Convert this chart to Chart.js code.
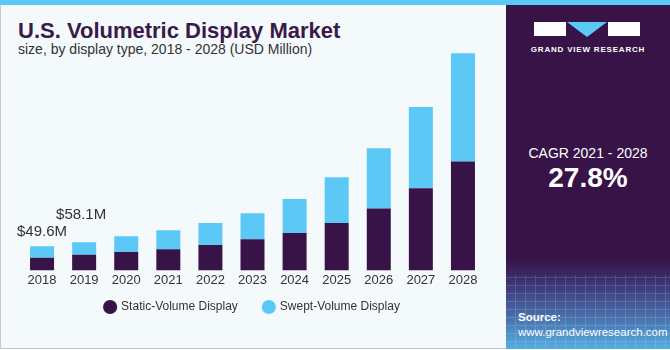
<!DOCTYPE html>
<html>
<head>
<meta charset="utf-8">
<script src="https://cdn.jsdelivr.net/npm/chart.js@4.4.0/dist/chart.umd.min.js"></script>
<style>
  body { margin: 0; width: 670px; height: 350px; overflow: hidden; font-family: "Liberation Sans", Arial, sans-serif; }
  .frame { position: absolute; left: 0; top: 0; width: 668px; height: 348px; background: #f4f9fc; border: 1px solid #c8c8c8; border-top: none; }
  .topbar { position: absolute; left: 0; top: 0; width: 670px; height: 5px; background: #5bc8f5; }
  .title { position: absolute; left: 18px; top: 18px; font-size: 22px; font-weight: bold; color: #3a1a4a; }
  .subtitle { position: absolute; left: 18px; top: 41px; font-size: 14px; color: #333; }
  .side { position: absolute; left: 506px; top: 5px; width: 164px; height: 344px;
          background: linear-gradient(to bottom, #371347 0%, #371347 74%, #3d3a78 82%, #4a78b4 92%, #56aee0 100%); }
  .mesh { position: absolute; left: 0; top: 270px; width: 164px; height: 74px; opacity: 0.18;
          background: repeating-linear-gradient(90deg, transparent 0 9px, #cfe6ff 9px 10px),
                      repeating-linear-gradient(0deg, transparent 0 7px, #cfe6ff 7px 8px); }
  .logo { position: absolute; left: 28px; top: 17px; width: 106px; height: 14px; }
  .logo .l { position: absolute; left: 0; top: 0; width: 32px; height: 14px; background: #fff; }
  .logo .r { position: absolute; left: 74px; top: 0; width: 32px; height: 14px; background: #fff; }
  .logo .t { position: absolute; left: 33px; top: 0; width: 0; height: 0; border-left: 20px solid transparent; border-right: 20px solid transparent; border-top: 15px solid #5bc8f5; }
  .brand { position: absolute; left: 0; top: 40px; width: 164px; text-align: center; font-size: 8px; font-weight: bold; color: #fff; letter-spacing: 0.8px; }
  .cagr { position: absolute; left: 0; top: 140px; width: 164px; text-align: center; font-size: 14px; color: #fff; }
  .pct { position: absolute; left: 0; top: 157px; width: 164px; text-align: center; font-size: 28px; font-weight: bold; color: #fff; }
  .src { position: absolute; left: 12px; top: 305px; font-size: 11.5px; color: #fff; line-height: 15px; }
  #wrap { position: absolute; left: 0; top: 40px; width: 500px; height: 298px; }
</style>
</head>
<body>
<div class="frame"></div>
<div class="topbar"></div>
<div class="title">U.S. Volumetric Display Market</div>
<div class="subtitle">size, by display type, 2018 - 2028 (USD Million)</div>
<div class="side">
  <div class="mesh"></div>
  <div class="logo"><div class="l"></div><div class="t"></div><div class="r"></div></div>
  <div class="brand">GRAND VIEW RESEARCH</div>
  <div class="cagr">CAGR 2021 - 2028</div>
  <div class="pct">27.8%</div>
  <div class="src"><b>Source:</b><br>www.grandviewresearch.com</div>
</div>
<div id="wrap"><canvas id="chart"></canvas></div>
<script>
const years = ['2018', '2019', '2020', '2021', '2022', '2023', '2024', '2025', '2026', '2027', '2028'];
const staticVolume = [26.2, 32.3, 37.7, 43.3, 52.1, 63.9, 76.9, 97.4, 127.1, 168.9, 223.9];
const sweptVolume = [23.4, 25.8, 32.3, 39.1, 45.3, 53.5, 70.0, 94.2, 124.2, 166.9, 222.5];
const totalLabels = ['$49.6M', '$58.1M'];

// totals over the first two bars, staggered like the original
const totalsPlugin = {
  id: 'totals',
  afterDatasetsDraw(chart) {
    const ctx = chart.ctx;
    const meta = chart.getDatasetMeta(1);
    const lift = [14, 27];
    const shift = [0, -3];
    ctx.save();
    ctx.font = '15px "Liberation Sans", Arial, sans-serif';
    ctx.fillStyle = '#333';
    ctx.textAlign = 'center';
    ctx.textBaseline = 'middle';
    totalLabels.forEach((txt, i) => {
      const bar = meta.data[i];
      ctx.fillText(txt, bar.x + shift[i], bar.y - lift[i]);
    });
    ctx.restore();
  }
};

// pull the legend a bit closer to the year labels
const legendNudge = {
  id: 'legendNudge',
  afterLayout(chart) {
    chart.legend.top -= 15;
    chart.legend.bottom -= 15;
  }
};

function drawChart() {
  new Chart(document.getElementById('chart'), {
    type: 'bar',
    data: {
      labels: years,
      datasets: [
        { label: 'Static-Volume Display', data: staticVolume, backgroundColor: '#371347' },
        { label: 'Swept-Volume Display', data: sweptVolume, backgroundColor: '#5bc8f5' }
      ]
    },
    options: {
      responsive: true,
      maintainAspectRatio: false,
      animation: false,
      layout: { padding: { left: 21, right: 16, top: 10, bottom: 0 } },
      datasets: { bar: { categoryPercentage: 1, barPercentage: 0.57 } },
      scales: {
        x: {
          stacked: true,
          grid: { display: false, drawTicks: false },
          border: { display: false },
          ticks: { color: '#333', font: { size: 13 }, padding: 2 }
        },
        y: { stacked: true, display: false, min: 0, max: 453 }
      },
      plugins: {
        legend: {
          position: 'bottom',
          labels: {
            usePointStyle: true,
            pointStyle: 'circle',
            boxWidth: 10,
            boxHeight: 10,
            padding: 26,
            color: '#333',
            font: { size: 12 }
          }
        },
        tooltip: { enabled: false }
      }
    },
    plugins: [totalsPlugin, legendNudge]
  });
}

drawChart();
</script>
</body>
</html>
